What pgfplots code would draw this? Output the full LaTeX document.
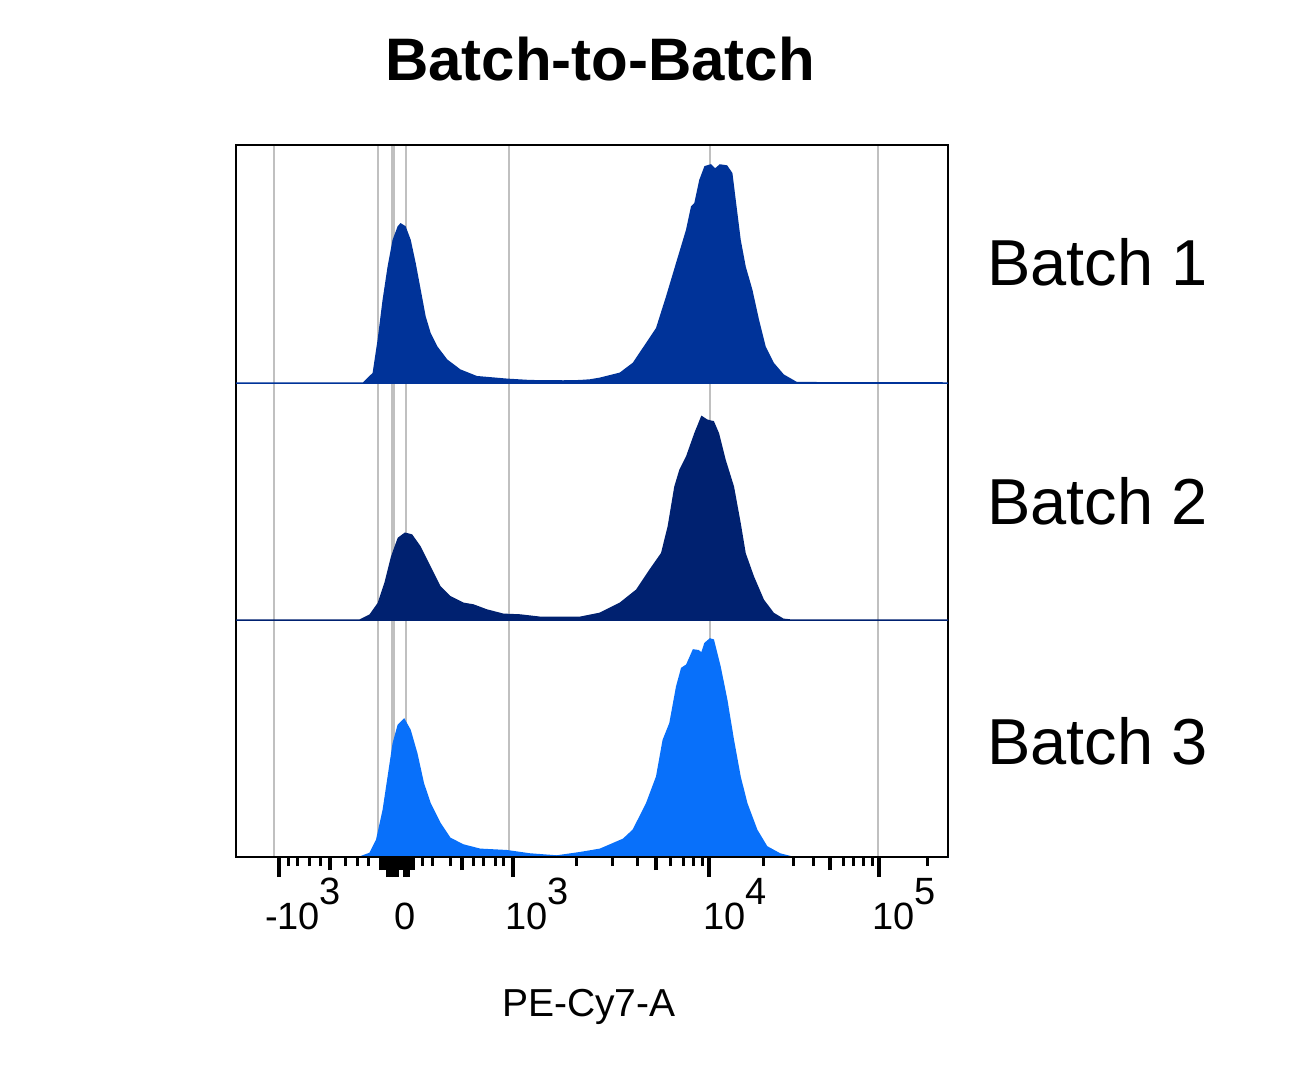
\documentclass[border=0pt]{standalone}
\usepackage{pgfplots}
\pgfplotsset{compat=1.18}
\usepackage{fontspec}
\setmainfont{Liberation Sans}

% 1 px of the reference = 0.5pt; x data are display positions on the biexponential scale
\definecolor{batchA}{RGB}{0,51,153}
\definecolor{batchB}{RGB}{0,33,112}
\definecolor{batchC}{RGB}{8,112,250}
\definecolor{gridgray}{RGB}{192,192,192}

\pgfplotsset{
  panel/.style={
    width=356pt, scale only axis,
    xmin=236, xmax=948, ymin=0,
    hide axis,
  },
  hist/.style={fill=#1, draw=#1, line width=0.75pt},
}
\newcommand{\expo}[1]{\raisebox{12.5pt}{#1}}

\begin{document}
\begin{tikzpicture}
\useasboundingbox (0,0) rectangle (647pt,-538.5pt);

% frame and grid lines
\begin{axis}[
  at={(118pt,-428.5pt)}, anchor=south west,
  width=356pt, height=356pt, scale only axis,
  xmin=236, xmax=948, ymin=0, ymax=1,
  xtick={274,378,392,394,406,509,710,878},
  xticklabels={}, ytick=\empty,
  xmajorgrids,
  major grid style={gridgray, line width=1.3pt},
  xtick style={draw=none},
  axis line style={black, line width=0.75pt},
]
\end{axis}

% Batch 1
\begin{axis}[panel, at={(118pt,-191.5pt)}, anchor=south west, height=119pt, ymax=238]
\addplot[hist=batchA] coordinates {
(236,0) (363.3,0) (373.3,9.7) (378.3,43) (383.3,83) (388.3,116.3) (393.3,143)
(398.3,156.3) (400.7,159) (405,156.3) (410,143) (415,119.7) (420,93) (425,66.3)
(430,49.7) (436.7,36.3) (446.7,23) (460,13) (476.7,6.3) (506.7,3.7) (530,2.3)
(563.3,2) (580,2.3) (590,3) (600,4.7) (620,9.7) (633.3,19.7) (646.7,39.7)
(656.7,54.7) (666.7,86.3) (676.7,119.7) (686.7,153) (691.7,176.3) (695,179.7)
(700,203) (705,216.3) (710.7,218) (715,213.7) (720,218) (726.7,217) (731.7,209.7)
(735,183) (740,143) (745,116.3) (751.7,93) (758.3,63) (765,36.3) (773.3,19.7)
(783.3,8) (796.7,0.3) (948,0)
} \closedcycle;
\end{axis}

% Batch 2
\begin{axis}[panel, at={(118pt,-310pt)}, anchor=south west, height=118.5pt, ymax=237]
\addplot[hist=batchB] coordinates {
(236,0) (360,0) (370,5) (378.3,16.7) (385,36.7) (391.7,63.3) (398.3,81.7)
(405,86.7) (411.7,85) (420,73.3) (430,53.3) (440,33.3) (450,23.3) (463.3,16.7)
(473.3,15) (486.7,10) (503.3,5.7) (520,5) (540,2.7) (563.3,2.7) (580,2.7)
(600,6.7) (620,16.7) (636.7,30) (650,50) (661.7,66.7) (668.3,93.3) (675,133.3)
(680,150) (686.7,163.3) (695,186.7) (701.7,203.3) (706.7,200) (710,199)
(713.3,198.3) (718.3,186.7) (725,160) (733.3,133.3) (740,96.7) (745,66.7)
(753.3,43.3) (763.3,20) (773.3,6.7) (783.3,0.7) (790,0) (948,0)
} \closedcycle;
\end{axis}

% Batch 3 with the x axis
\begin{axis}[panel, hide axis=false, at={(118pt,-428.5pt)}, anchor=south west,
  height=118.5pt, ymax=237,
  axis x line*=bottom, axis y line=none,
  x axis line style={-, black, line width=0.75pt},
  axis on top,
  tick align=outside,
  xtick={279,388,391,394,397,405,408,513,709,879},
  xticklabels={
    \makebox[0pt][l]{\hspace*{-7pt}-10\expo{3}},,,,,
    \makebox[0pt]{0},,
    \makebox[0pt][l]{\hspace*{-4pt}10\expo{3}},
    \makebox[0pt][l]{\hspace*{-3pt}10\expo{4}},
    \makebox[0pt][l]{\hspace*{-3.5pt}10\expo{5}}},
  minor xtick={288,297,309,320,345,357,368,422,432,450,473,483,495,503,
    576,612,637,670,683,693,702,763,793,813,843,853,863,872,927},
  extra x ticks={330,462,656,830,381,383.5,386,399.5,402,410.5,413},
  extra x tick labels={},
  extra tick style={major tick length=6.5pt},
  major tick length=10pt, minor tick length=4.5pt,
  major tick style={black, line width=2.2pt},
  minor tick style={black, line width=1.5pt},
  ytick=\empty,
  xticklabel style={anchor=north, inner sep=0pt, text height=26pt, text depth=0pt,
    font=\fontsize{19}{22}\selectfont},
]
\addplot[hist=batchC] coordinates {
(236,0) (360,0) (370,3.7) (376.7,17) (383.3,47) (388.3,80.3) (393.3,113.7)
(398.3,132) (404,137.7) (410,127) (416.7,103.7) (423.3,73.7) (430,53.7)
(440,33.7) (450,18.7) (463.3,12) (480,7.7) (506.7,6.3) (530,3) (556.7,1)
(580,4.3) (600,7.7) (623.3,17.7) (633.3,27) (646.7,53.7) (656.7,80.3)
(663.3,117) (670,133.7) (676.7,170.3) (681.7,188.7) (686.7,192) (693.3,207)
(698.3,206.3) (701.7,203.7) (705,213.7) (710,218) (713.3,217) (720,190.3)
(726.7,157) (733.3,117) (740,80.3) (746.7,53.7) (756.7,27) (766.7,10.3)
(780,3) (791.7,0) (948,0)
} \closedcycle;
\end{axis}

\node[anchor=base, font=\bfseries\fontsize{30}{34}\selectfont] at (300pt,-40pt) {Batch-to-Batch};
\node[anchor=base west, inner sep=0pt, font=\fontsize{32.5}{36}\selectfont] at (493.5pt,-142.5pt) {Batch 1};
\node[anchor=base west, inner sep=0pt, font=\fontsize{32.5}{36}\selectfont] at (493.5pt,-262pt) {Batch 2};
\node[anchor=base west, inner sep=0pt, font=\fontsize{32.5}{36}\selectfont] at (493.5pt,-382pt) {Batch 3};
\node[anchor=base, font=\fontsize{19.5}{22}\selectfont] at (294.5pt,-508pt) {PE-Cy7-A};
\end{tikzpicture}
\end{document}
